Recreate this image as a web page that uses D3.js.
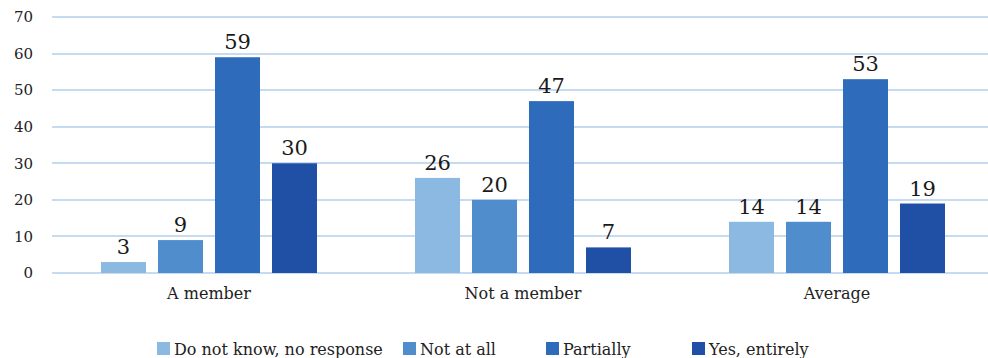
<!DOCTYPE html>
<html>
<head>
<meta charset="utf-8">
<script src="https://cdn.jsdelivr.net/npm/d3@7"></script>
<style>
  html, body { margin: 0; padding: 0; background: #ffffff; }
  svg { display: block; }
  svg text { font-family: "DejaVu Serif", "Liberation Serif", serif; }
</style>
</head>
<body>
<svg id="chart" width="988" height="358"></svg>
<script>
// Survey answers by membership status (%)
const categories = ["A member", "Not a member", "Average"];
const seriesNames = ["Do not know, no response", "Not at all", "Partially", "Yes, entirely"];
const dontKnow = [3, 26, 14];
const notAtAll = [9, 20, 14];
const partially = [59, 47, 53];
const yesEntirely = [30, 7, 19];
const yTicks = [0, 10, 20, 30, 40, 50, 60, 70];

const seriesValues = [dontKnow, notAtAll, partially, yesEntirely];
const colors = ["#8cb9e2", "#508dcd", "#2e6bbb", "#1f50a5"];

const svg = d3.select("#chart");
const width = 988, height = 358;
const plotLeft = 52, plotRight = 994, plotTop = 17, plotBottom = 273;
const clusterWidth = 216;

const x0 = d3.scaleBand()
  .domain(categories)
  .range([plotLeft, plotRight]);

const x1 = d3.scaleBand()
  .domain(d3.range(seriesNames.length))
  .range([0, clusterWidth])
  .paddingInner(12 / 57);

const y = d3.scaleLinear()
  .domain([0, 70])
  .range([plotBottom, plotTop]);

// horizontal gridlines
svg.append("g")
  .selectAll("line")
  .data(yTicks)
  .join("line")
  .attr("x1", plotLeft)
  .attr("x2", width)
  .attr("y1", d => Math.round(y(d)))
  .attr("y2", d => Math.round(y(d)))
  .attr("stroke", "#c6dbf0")
  .attr("stroke-width", 2);

// y-axis tick labels
svg.append("g")
  .selectAll("text")
  .data(yTicks)
  .join("text")
  .attr("x", 33)
  .attr("y", d => y(d))
  .attr("dy", "0.35em")
  .attr("text-anchor", "end")
  .attr("font-size", 15)
  .attr("fill", "#222")
  .text(d => d);

// bars
const groups = svg.append("g")
  .selectAll("g")
  .data(categories)
  .join("g")
  .attr("transform", d => `translate(${x0(d) + (x0.bandwidth() - clusterWidth) / 2},0)`);

const cells = (c, ci) => seriesValues.map((vals, si) => ({ si, v: vals[ci] }));

groups.selectAll("rect")
  .data(cells)
  .join("rect")
  .attr("x", d => x1(d.si))
  .attr("width", x1.bandwidth())
  .attr("y", d => y(d.v))
  .attr("height", d => y(0) - y(d.v))
  .attr("fill", d => colors[d.si]);

// value labels
groups.selectAll("text.val")
  .data(cells)
  .join("text")
  .attr("class", "val")
  .attr("x", d => x1(d.si) + x1.bandwidth() / 2)
  .attr("y", d => y(d.v) - 8)
  .attr("text-anchor", "middle")
  .attr("font-size", 21)
  .attr("fill", "#1a1a1a")
  .text(d => d.v);

// category labels
svg.append("g")
  .selectAll("text")
  .data(categories)
  .join("text")
  .attr("x", d => x0(d) + x0.bandwidth() / 2)
  .attr("y", 299)
  .attr("text-anchor", "middle")
  .attr("font-size", 16)
  .attr("fill", "#222")
  .text(d => d);

// legend
const legendX = [157, 403, 546, 692];
const legend = svg.append("g")
  .selectAll("g")
  .data(seriesNames)
  .join("g")
  .attr("transform", (d, i) => `translate(${legendX[i]},342)`);

legend.append("rect")
  .attr("width", 13)
  .attr("height", 13)
  .attr("fill", (d, i) => colors[i]);

legend.append("text")
  .attr("x", 17)
  .attr("y", 13)
  .attr("font-size", 16)
  .attr("fill", "#222")
  .text(d => d);
</script>
</body>
</html>
